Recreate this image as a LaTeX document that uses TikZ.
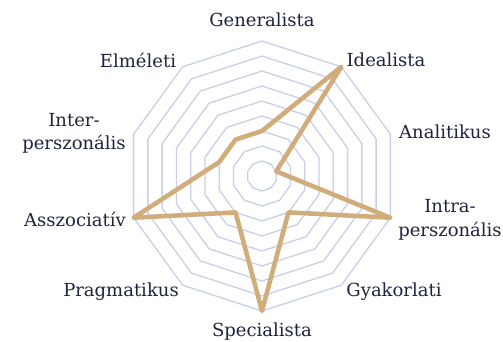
\documentclass[tikz,border=0pt]{standalone}
\usepackage{fontspec}
\setmainfont{DejaVu Serif}
\definecolor{ringc}{HTML}{C9CEEB}
\definecolor{datac}{HTML}{D2AD7C}
\definecolor{txt}{HTML}{1F2340}
\begin{document}
\begin{tikzpicture}[x=1pt,y=1pt,
  ring/.style={draw=ringc,line width=1.3pt},
  data/.style={draw=datac,line width=4.6pt,line join=round},
  lbl/.style={text=txt,font=\fontsize{18}{23}\selectfont,anchor=base,inner sep=0pt}]
\useasboundingbox (0,0) rectangle (503,342);
\begin{scope}[shift={(262,166)}]
  \foreach \k in {1,...,9}{
    \draw[ring] (90:15*\k) -- (54:15*\k) -- (18:15*\k) -- (-18:15*\k) -- (-54:15*\k)
      -- (-90:15*\k) -- (-126:15*\k) -- (-162:15*\k) -- (162:15*\k) -- (126:15*\k) -- cycle;
  }
  \coordinate (pGen) at (90:45);
  \coordinate (pIde) at (54:135);
  \coordinate (pAna) at (18:15);
  \coordinate (pIntra) at (-18:135);
  \coordinate (pGya) at (-54:45);
  \coordinate (pSpe) at (-90:135);
  \coordinate (pPra) at (-126:45);
  \coordinate (pAss) at (-162:135);
  \coordinate (pInter) at (162:45);
  \coordinate (pElm) at (126:45);
  \draw[data] (pGen) -- (pIde) -- (pAna) -- (pIntra) -- (pGya) -- (pSpe) -- (pPra) -- (pAss) -- (pInter) -- (pElm) -- cycle;
\end{scope}
\node[lbl] (lGen) at (262,315) {Generalista};
\node[lbl] (lIde) at (386,275) {Idealista};
\node[lbl] (lElm) at (138,274) {Elméleti};
\node[lbl] (lAna) at (445,203) {Analitikus};
\node[lbl] (lInter1) at (74,215) {Inter-};
\node[lbl] (lInter2) at (74,192) {perszonális};
\node[lbl] (lAss) at (75,115) {Asszociatív};
\node[lbl] (lIntra1) at (450,129) {Intra-};
\node[lbl] (lIntra2) at (450,105) {perszonális};
\node[lbl] (lGya) at (394,45) {Gyakorlati};
\node[lbl] (lPra) at (121,45) {Pragmatikus};
\node[lbl] (lSpe) at (262,5) {Specialista};
\end{tikzpicture}
\end{document}
